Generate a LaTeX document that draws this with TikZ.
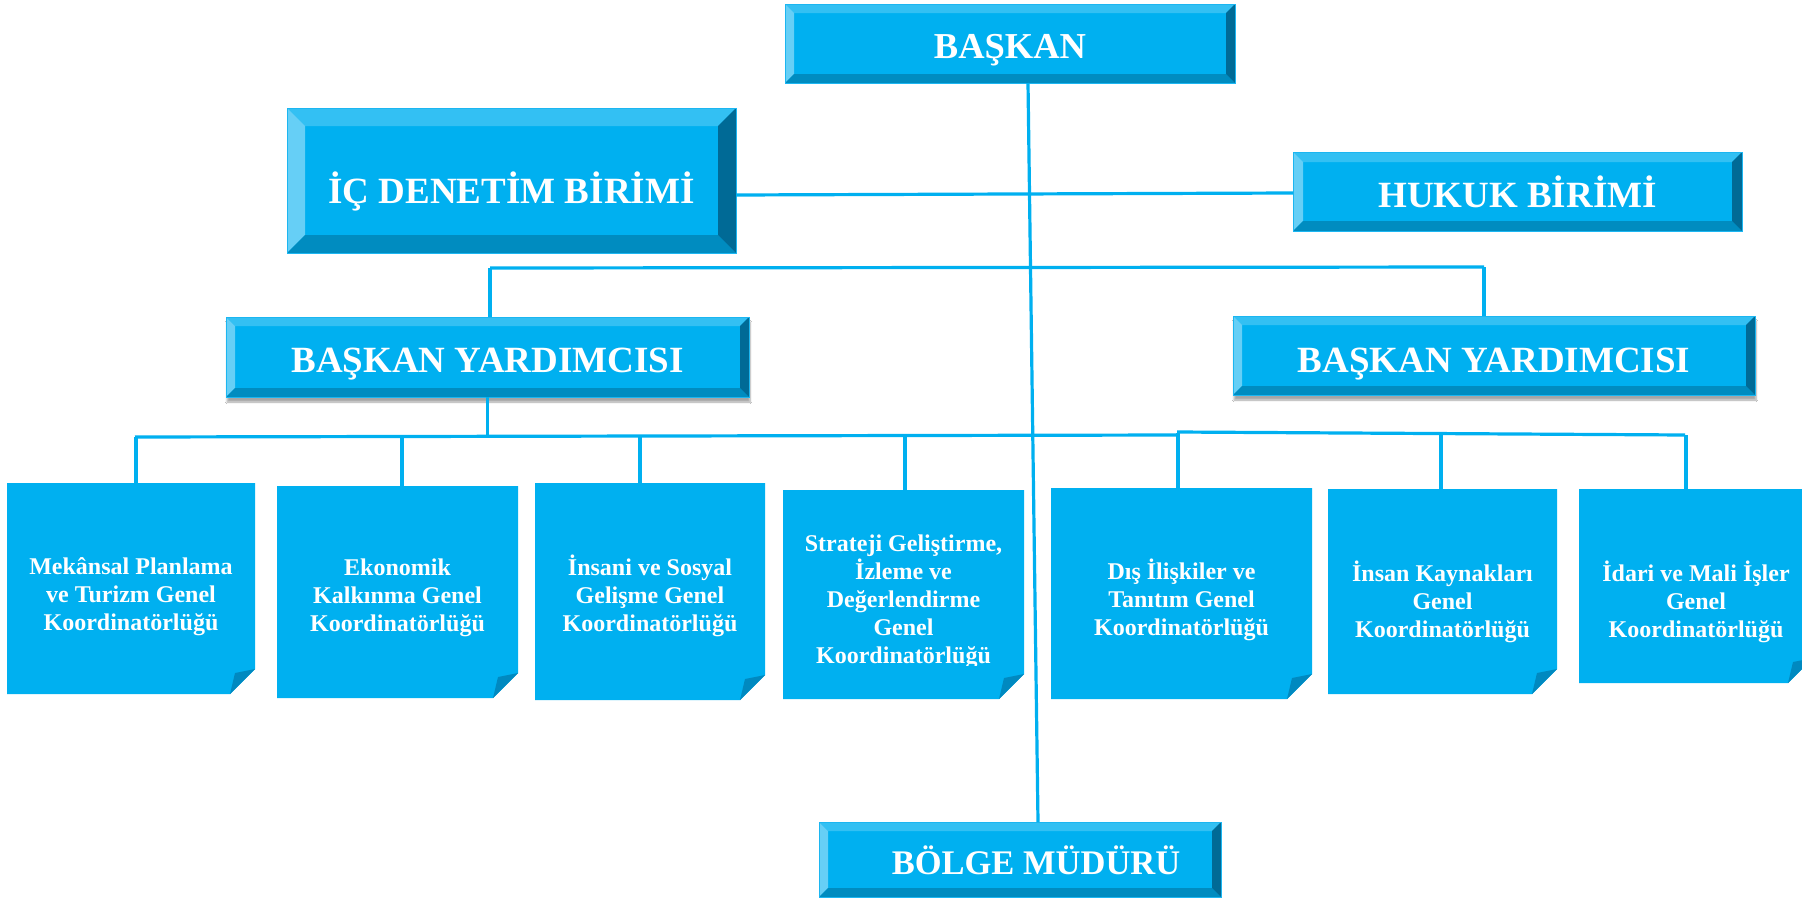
\documentclass[tikz,border=0pt]{standalone}
\usepackage{fontspec}
\setmainfont{Liberation Serif}
\usetikzlibrary{calc,shadows.blur}
\definecolor{face}{HTML}{00B0F0}
\definecolor{bevT}{HTML}{33C0F3}
\definecolor{bevL}{HTML}{66CFF6}
\definecolor{bevB}{HTML}{008CC0}
\definecolor{bevR}{HTML}{006A96}
\definecolor{edge}{HTML}{1CB6F1}
\definecolor{fold}{HTML}{0089C0}
\tikzset{
  conn/.style={draw=face, line width=3.2pt},
  bevface/.style={fill=face, inner sep=0pt, outer sep=0pt, text=white,
    font=\bfseries\fontsize{37}{40}\selectfont, text height=24.5pt, text depth=0pt},
  btop/.style={fill=bevT},
  bleft/.style={fill=bevL},
  bbottom/.style={fill=bevB},
  bright/.style={fill=bevR},
  bline/.style={draw=edge, line width=1pt},
  byshadow/.style={blur shadow={shadow xshift=1pt, shadow yshift=-5pt, shadow blur steps=6, shadow opacity=35}},
  kanchor/.style={inner sep=0pt, outer sep=0pt},
  kfill/.style={fill=face},
  kfold/.style={fill=fold},
  ktext/.style={text=white, align=center, inner sep=0pt,
    font=\bfseries\fontsize{24}{28}\selectfont},
}
% name, cx, cy, w, h, bevel, text offset down, extra style, text
\newcommand{\bevbox}[9]{%
  \node[bevface, minimum width=#4pt, minimum height=#5pt, #8] (#1) at (#2,#3) {\raisebox{-#7pt}{#9}};
  \fill[btop] (#1.north west) -- (#1.north east) -- ($(#1.north east)+(-#6pt,-#6pt)$) -- ($(#1.north west)+(#6pt,-#6pt)$) -- cycle;
  \fill[bleft] (#1.north west) -- ($(#1.north west)+(#6pt,-#6pt)$) -- ($(#1.south west)+(#6pt,#6pt)$) -- (#1.south west) -- cycle;
  \fill[bbottom] (#1.south west) -- ($(#1.south west)+(#6pt,#6pt)$) -- ($(#1.south east)+(-#6pt,#6pt)$) -- (#1.south east) -- cycle;
  \fill[bright] (#1.north east) -- (#1.south east) -- ($(#1.south east)+(-#6pt,#6pt)$) -- ($(#1.north east)+(-#6pt,-#6pt)$) -- cycle;
  \draw[bline] (#1.north west) rectangle (#1.south east);
}
% folded-corner box shape: name, cx, cy, w, h
\newcommand{\kshape}[5]{%
  \node[kanchor, minimum width=#4pt, minimum height=#5pt] (#1) at (#2,#3) {};
  \fill[kfill] (#1.north west) -- (#1.north east) -- ($(#1.south east)+(0,25pt)$) -- ($(#1.south east)+(-25pt,0)$) -- (#1.south west) -- cycle;
  \fill[kfold] ($(#1.south east)+(0,25pt)$) -- ($(#1.south east)+(-20pt,21pt)$) -- ($(#1.south east)+(-25pt,0)$) -- cycle;
}
\begin{document}
\begin{tikzpicture}[x=1pt,y=-1pt]
\useasboundingbox (0,0) rectangle (1802,897);
\fill[white] (0,0) rectangle (1802,897);
\begin{scope}
\clip (0,0) rectangle (1802,897);

% bus coordinates
\coordinate (ubL) at (490,268);
\coordinate (ubR) at (1484,267);
\coordinate (lbL) at (135,437);
\coordinate (lbM) at (1177,435);
\coordinate (lbM2) at (1177,432);
\coordinate (lbR) at (1685,435);
\coordinate (t1) at (136,437);
\coordinate (t2) at (402,436);
\coordinate (t3) at (640,436);
\coordinate (t4) at (905,436);
\coordinate (t5) at (1178,433);
\coordinate (t6) at (1441,433);
\coordinate (t7) at (1686,435);

% bottom row
\kshape{mek}{131}{588.5}{248}{211}
\node[ktext] (mekt) at (131,596.5) {Mekânsal Planlama\\ve Turizm Genel\\Koordinatörlüğü};
\kshape{eko}{397.5}{592}{241}{212}
\node[ktext] (ekot) at (397.5,597.5) {Ekonomik\\Kalkınma Genel\\Koordinatörlüğü};
\kshape{ins}{650}{591.5}{230}{217}
\node[ktext] (inst) at (650,596) {İnsani ve Sosyal\\Gelişme Genel\\Koordinatörlüğü};
\kshape{str}{903.5}{594.5}{241}{209}
\begin{scope}
\clip (783,480) rectangle (1024,665);
\node[ktext] (strt) at (903.5,601.5) {Strateji Geliştirme,\\İzleme ve\\Değerlendirme\\Genel\\Koordinatörlüğü};
\end{scope}
\kshape{dis}{1181.5}{593.5}{261}{211}
\node[ktext] (dist) at (1181.5,599.5) {Dış İlişkiler ve\\Tanıtım Genel\\Koordinatörlüğü};
\kshape{ik}{1442.5}{591.5}{229}{205}
\node[ktext] (ikt) at (1442.5,601.5) {İnsan Kaynakları\\Genel\\Koordinatörlüğü};
\kshape{idr}{1696}{586}{234}{194}
\node[ktext] (idrt) at (1696,601.5) {İdari ve Mali İşler\\Genel\\Koordinatörlüğü};

% upper boxes
\bevbox{baskan}{1010}{43.5}{450}{79}{9}{3}{font=\bfseries\fontsize{36.5}{40}\selectfont}{BAŞKAN}
\bevbox{ic}{511.5}{180.5}{449}{145}{18}{10.5}{}{İÇ DENETİM BİRİMİ}
\bevbox{hukuk}{1517.5}{191.5}{449}{79}{10}{4}{}{HUKUK BİRİMİ}
\bevbox{byl}{487.5}{357}{523}{80}{9}{3.7}{byshadow}{BAŞKAN YARDIMCISI}
\bevbox{byr}{1494}{355.5}{522}{79}{9}{4.5}{byshadow}{BAŞKAN YARDIMCISI}
\bevbox{bolge}{1020}{859.5}{402}{75}{9}{3}{font=\bfseries\fontsize{34.5}{40}\selectfont}{\hspace*{32pt}BÖLGE MÜDÜRÜ}

% connectors
\draw[conn] ($(baskan.south)+(18pt,0)$) -- ($(bolge.north)+(18pt,0)$);
\draw[conn] ($(ic.east)+(0,-14.5pt)$) -- ($(hukuk.west)+(0,-1.5pt)$);
\draw[conn] (ubL) -- (ubR);
\draw[conn] (ubL) -- (ubL |- byl.north);
\draw[conn] (ubR) -- (ubR |- byr.north);
\draw[conn] (byl.south) -- (byl.south |- lbL);
\draw[conn] (lbL) -- (lbM);
\draw[conn] (lbM2) -- (lbR);
\draw[conn] (t1) -- (t1 |- mek.north);
\draw[conn] (t2) -- (t2 |- eko.north);
\draw[conn] (t3) -- (t3 |- ins.north);
\draw[conn] (t4) -- (t4 |- str.north);
\draw[conn] (t5) -- (t5 |- dis.north);
\draw[conn] (t6) -- (t6 |- ik.north);
\draw[conn] (t7) -- (t7 |- idr.north);
\end{scope}
\end{tikzpicture}
\end{document}
